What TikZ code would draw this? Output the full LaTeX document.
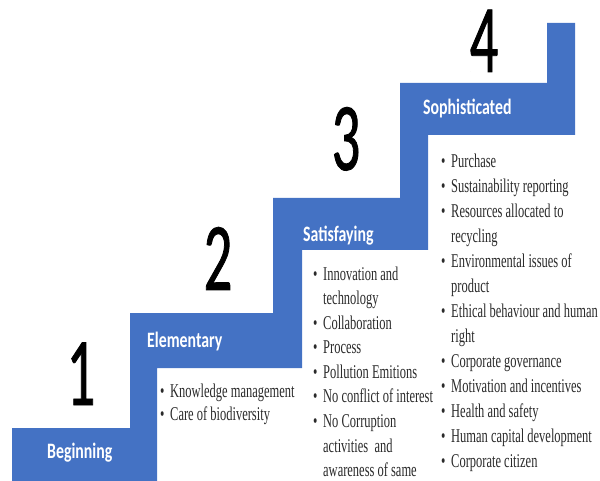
\documentclass[tikz,border=0pt]{standalone}
\usepackage{fontspec}
\setmainfont{Liberation Serif}
\newfontfamily\stepfont[FakeStretch=0.72]{Carlito}
\newfontfamily\numfont[FakeStretch=0.58,FakeBold=0.8]{Carlito}
\newfontfamily\listfont[FakeStretch=0.64]{Liberation Serif}
\definecolor{stairblue}{HTML}{4472C4}
\definecolor{listgray}{HTML}{2A2A2A}
\newcommand{\bul}{\makebox[10pt][l]{\textbullet}}
\newcommand{\ind}{\hspace*{10pt}}

\tikzset{
  stair/.style={fill=stairblue},
  steplabel/.style={anchor=base west, inner sep=0pt, text=white,
    font=\stepfont\bfseries\fontsize{22}{26}\selectfont},
  digit/.style={anchor=base, inner sep=0pt, text=black,
    font=\numfont\fontsize{97}{100}\selectfont},
  items/.style={anchor=base west, inner sep=0pt, text=listgray}
}

\begin{document}
\begin{tikzpicture}[x=1pt,y=-1pt]
\useasboundingbox (0,0) rectangle (600,481);

% the staircase band
\fill[stair] (12,428) -- (130,428) -- (130,313) -- (273,313) -- (273,198)
  -- (400,198) -- (400,83) -- (547,83) -- (547,23) -- (575,23) -- (575,135)
  -- (428,135) -- (428,250) -- (302,250) -- (302,368) -- (157,368)
  -- (157,481) -- (12,481) -- cycle;

% step numbers
\foreach \n/\x/\y in {1/81/405, 2/218/290, 3/346/170, 4/484/72} {
\node[digit] (num\n) at (\x,\y) {\n};
}

% step names
\foreach \name/\txt/\x/\y in {beginning/Beginning/47/458,
    elementary/Elementary/147/347, satisfaying/Satisfaying/303/242,
    sophisticated/Sophisticated/423/115} {
\node[steplabel] (\name) at (\x,\y) {\txt};
}

% lists under the steps
\node[items] (list2) at (160,397) {\listfont\fontsize{19.5}{23}\selectfont
  \begin{tabular}[t]{@{}l@{}}
  \bul Knowledge management\\
  \bul Care of biodiversity
  \end{tabular}};

\node[items] (list3) at (313,280) {\listfont\fontsize{19.5}{24.6}\selectfont
  \begin{tabular}[t]{@{}l@{}}
  \bul Innovation and\\
  \ind technology\\
  \bul Collaboration\\
  \bul Process\\
  \bul Pollution Emitions\\
  \bul No conflict of interest\\
  \bul No Corruption\\
  \ind activities\ \ and\\
  \ind awareness of same
  \end{tabular}};

\node[items] (list4) at (441,168) {\listfont\fontsize{19.5}{25}\selectfont
  \begin{tabular}[t]{@{}l@{}}
  \bul Purchase\\
  \bul Sustainability reporting\\
  \bul Resources allocated to\\
  \ind recycling\\
  \bul Environmental issues of\\
  \ind product\\
  \bul Ethical\ behaviour and human\\
  \ind right\\
  \bul Corporate governance\\
  \bul Motivation and incentives\\
  \bul Health and safety\\
  \bul Human capital development\\
  \bul Corporate citizen
  \end{tabular}};
\end{tikzpicture}
\end{document}
